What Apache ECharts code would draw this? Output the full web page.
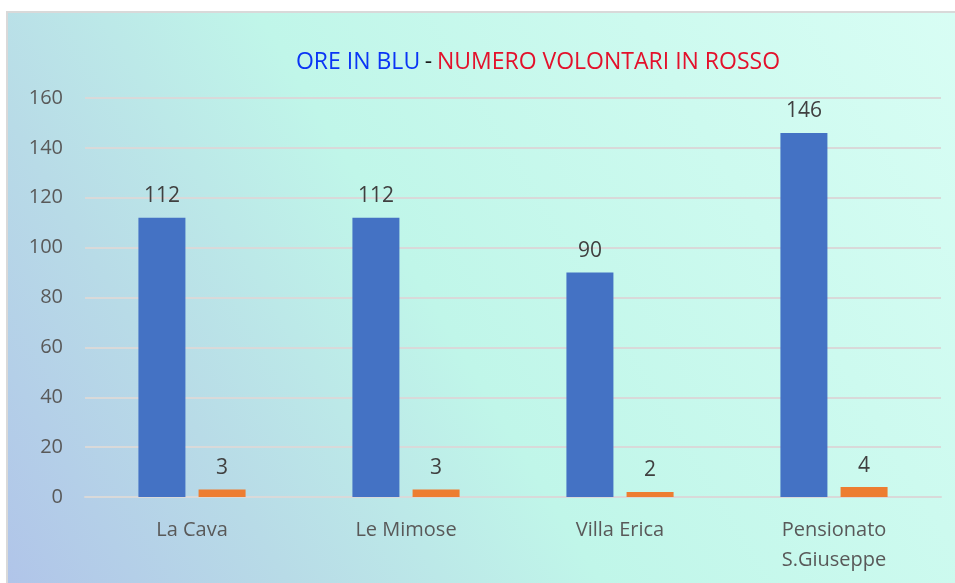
<!DOCTYPE html>
<html>
<head>
  <meta charset="UTF-8">
  <title>Ore e volontari</title>
  <script src="https://cdn.jsdelivr.net/npm/echarts@6/dist/echarts.min.js"></script>
  <style>
    html, body { margin: 0; padding: 0; background: #fff; }
    #chart { width: 955px; height: 583px; }
  </style>
</head>
<body>
  <div id="chart"></div>
  <script>
    // dati
    const strutture = ['La Cava', 'Le Mimose', 'Villa Erica', 'Pensionato\nS.Giuseppe'];
    const ore = [112, 112, 90, 146];
    const volontari = [3, 3, 2, 4];
    const yTicks = { min: 0, max: 160, step: 20 };

    const chart = echarts.init(document.getElementById('chart'));

    const labelFont = "'Open Sans', 'Noto Sans', sans-serif";

    const option = {
      animation: false,
      textStyle: { fontFamily: labelFont },
      graphic: [{
        type: 'rect',
        silent: true,
        z: -10,
        shape: { x: 7, y: 12, width: 1000, height: 600 },
        style: {
          fill: new echarts.graphic.LinearGradient(0, 1, 1, 0, [
            { offset: 0, color: '#b0c3e9' },
            { offset: 0.22, color: '#b8dbe7' },
            { offset: 0.45, color: '#c0f6e9' },
            { offset: 1, color: '#dafef5' }
          ]),
          stroke: '#d9d9d9',
          lineWidth: 2
        }
      }],
      title: {
        text: '{b|ORE IN BLU} {k|-} {r|NUMERO VOLONTARI IN ROSSO}',
        left: 533,
        top: 46,
        textAlign: 'center',
        textStyle: {
          fontWeight: 'normal',
          rich: {
            b: { color: '#0a35f5', fontSize: 23, fontWeight: 'normal', fontFamily: labelFont },
            k: { color: '#1a1a1a', fontSize: 23, fontWeight: 'normal', fontFamily: labelFont },
            r: { color: '#e3112b', fontSize: 23, fontWeight: 'normal', fontFamily: labelFont }
          }
        }
      },
      grid: { left: 85, right: 14, top: 98, bottom: 86 },
      xAxis: {
        type: 'category',
        data: strutture,
        axisLine: { show: true, lineStyle: { color: '#d9d9d9', width: 2 } },
        axisTick: { show: false },
        axisLabel: {
          color: '#595959',
          fontSize: 20,
          lineHeight: 30,
          margin: 18,
          fontFamily: labelFont
        }
      },
      yAxis: {
        type: 'value',
        min: yTicks.min,
        max: yTicks.max,
        interval: yTicks.step,
        axisLine: { show: false },
        axisTick: { show: false },
        splitLine: { lineStyle: { color: '#d9d9d9', width: 2 } },
        axisLabel: {
          color: '#595959',
          fontSize: 20,
          margin: 22,
          fontFamily: labelFont
        }
      },
      series: [
        {
          name: 'Ore',
          type: 'bar',
          data: ore,
          barWidth: 47,
          barGap: '28%',
          itemStyle: { color: '#4472c4' },
          label: {
            show: true,
            position: 'top',
            distance: 11,
            color: '#404040',
            fontSize: 21,
            fontFamily: labelFont
          }
        },
        {
          name: 'Volontari',
          type: 'bar',
          data: volontari,
          barWidth: 47,
          itemStyle: { color: '#ed7d31' },
          label: {
            show: true,
            position: 'top',
            distance: 11,
            color: '#404040',
            fontSize: 21,
            fontFamily: labelFont
          }
        }
      ]
    };

    chart.setOption(option);
  </script>
</body>
</html>
